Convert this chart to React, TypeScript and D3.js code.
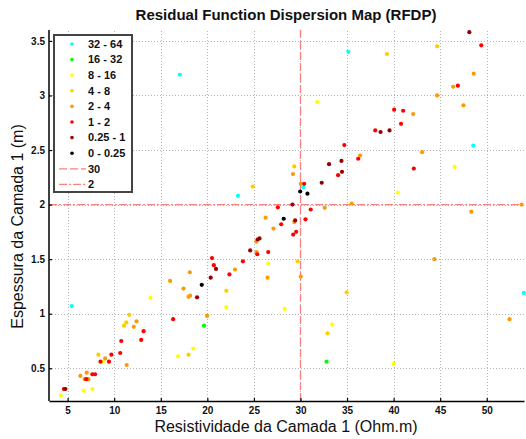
import { useEffect, useRef } from "react";
import * as d3 from "d3";

// legend labels, highest misfit class first
const categories = ["32 - 64", "16 - 32", "8 - 16", "4 - 8", "2 - 4", "1 - 2", "0.25 - 1", "0 - 0.25"];

// [resistivity (Ohm.m), thickness (m)] per misfit class
const cls32to64 = [[5.45, 1.07], [17.05, 3.19], [23.29, 2.08], [30.3, 2.16], [35.14, 3.4], [48.55, 2.54], [53.98, 1.19]];
const cls16to32 = [[19.65, 0.89], [32.8, 0.56]];
const cls8to16 = [
    [4.27, 0.25], [6.74, 0.295], [7.66, 0.31], [8.78, 0.56], [13.9, 1.145], [16.86, 0.61], [18.48, 0.68],
    [22.04, 1.06], [26.54, 1.46], [28.3, 1.045], [31.8, 2.94], [33.4, 0.9], [40.0, 0.54], [40.46, 2.11], [46.56, 2.345]
];
const cls4to8 = [
    [8.3, 0.625], [11.05, 0.89], [11.3, 0.92], [11.62, 0.99], [17.98, 0.625], [22.04, 1.21], [24.86, 2.165],
    [29.33, 2.35], [29.7, 1.48], [32.9, 0.82], [34.96, 1.195], [39.28, 3.38], [44.67, 3.45]
];
const cls2to4 = [
    [6.37, 0.43], [6.83, 0.4], [7.05, 0.46], [7.23, 0.4], [9.03, 0.59], [11.34, 0.53], [12.1, 0.88], [12.4, 0.93],
    [16.0, 1.3], [17.44, 1.23], [17.98, 1.155], [18.15, 1.165], [18.12, 1.38], [19.97, 0.98], [22.97, 1.405],
    [25.26, 1.66], [25.29, 1.565], [26.25, 1.88], [26.47, 1.33], [27.1, 1.78], [29.2, 2.28], [29.33, 1.84],
    [30.03, 2.19], [30.03, 1.34], [32.6, 1.97], [35.5, 2.01], [36.4, 2.45], [42.1, 2.83], [43.06, 2.48],
    [44.38, 1.5], [44.67, 3.0], [46.4, 3.08], [47.5, 2.91], [48.34, 1.935], [48.6, 3.2], [52.45, 0.95], [53.74, 2.0]
];
const cls1to2 = [
    [4.6, 0.31], [7.0, 0.4], [7.66, 0.445], [7.95, 0.445], [8.53, 0.56], [9.44, 0.56], [9.7, 0.625], [10.65, 0.64],
    [10.76, 0.75], [12.9, 0.76], [13.16, 0.84], [16.33, 0.95], [20.5, 1.51], [20.7, 1.445], [22.37, 1.36],
    [23.82, 1.48], [25.36, 1.545], [26.54, 1.565], [27.57, 1.975], [27.93, 1.82], [29.22, 1.725], [29.54, 1.75],
    [30.4, 2.19], [30.54, 1.865], [31.1, 1.955], [34.04, 2.27], [34.71, 2.545], [36.2, 2.42], [38.03, 2.68],
    [40.06, 2.87], [40.8, 2.74], [41.03, 2.86], [42.17, 2.33], [46.9, 3.09], [49.41, 3.46]
];
const cls025to1 = [
    [4.76, 0.31], [18.9, 1.15], [20.36, 1.33], [20.93, 1.41], [24.6, 1.58], [25.4, 1.68], [25.6, 1.69],
    [29.14, 2.0], [29.43, 1.855], [32.28, 2.2], [33.07, 2.37], [34.4, 2.4], [34.46, 2.3], [38.6, 2.665],
    [39.56, 2.68], [48.13, 3.58]
];
const cls0to025 = [[19.4, 1.265], [28.2, 1.87], [29.97, 2.12], [30.75, 2.1]];

const series = [cls32to64, cls16to32, cls8to16, cls4to8, cls2to4, cls1to2, cls025to1, cls0to025];

const xTicks = [5, 10, 15, 20, 25, 30, 35, 40, 45, 50];
const yTicks = [0.5, 1, 1.5, 2, 2.5, 3, 3.5];
const refX = 30;
const refY = 2;

const colors = ["#00ffff", "#00ff00", "#ffff00", "#ffcc00", "#ff9900", "#ff0000", "#990000", "#000000"];
const refColor = "#ff7f7f";
const font = "'Liberation Sans', Arial, sans-serif";

export default function App() {
    const ref = useRef<SVGSVGElement>(null);

    useEffect(() => {
        const width = 526;
        const height = 439;
        const m = { left: 49, right: 2, top: 30, bottom: 38 };

        const svg = d3.select(ref.current)
            .attr("width", width)
            .attr("height", height)
            .style("font-family", font);

        svg.selectAll("*").remove();

        const x = d3.scaleLinear().domain([3, 54]).range([m.left, width - m.right]);
        const y = d3.scaleLinear().domain([0.2, 3.6]).range([height - m.bottom, m.top]);

        // grid
        const grid = svg.append("g")
            .attr("stroke", "#b5b5b5")
            .attr("stroke-width", 1)
            .attr("stroke-dasharray", "1,2");
        grid.selectAll(".gx").data(xTicks).join("line")
            .attr("x1", d => Math.round(x(d)) + 0.5).attr("x2", d => Math.round(x(d)) + 0.5)
            .attr("y1", y.range()[0]).attr("y2", y.range()[1]);
        grid.selectAll(".gy").data(yTicks).join("line")
            .attr("y1", d => Math.round(y(d)) + 0.5).attr("y2", d => Math.round(y(d)) + 0.5)
            .attr("x1", x.range()[0]).attr("x2", x.range()[1]);

        // reference lines
        svg.append("line")
            .attr("x1", x(refX)).attr("x2", x(refX))
            .attr("y1", y.range()[0]).attr("y2", y.range()[1])
            .attr("stroke", refColor).attr("stroke-width", 1.3)
            .attr("stroke-dasharray", "8,3");
        svg.append("line")
            .attr("x1", x.range()[0]).attr("x2", x.range()[1])
            .attr("y1", y(refY)).attr("y2", y(refY))
            .attr("stroke", refColor).attr("stroke-width", 1.3)
            .attr("stroke-dasharray", "8,2,2,2");

        // points
        series.forEach((pts, i) => {
            svg.append("g").selectAll("circle").data(pts).join("circle")
                .attr("cx", d => x(d[0]))
                .attr("cy", d => y(d[1]))
                .attr("r", 2.1)
                .attr("fill", colors[i]);
        });

        // axes
        const xAxis = svg.append("g")
            .attr("transform", `translate(0,${y.range()[0]})`)
            .call(d3.axisBottom(x).tickValues(xTicks).tickSizeInner(-3).tickSizeOuter(0).tickPadding(6));
        const yAxis = svg.append("g")
            .attr("transform", `translate(${x.range()[0]},0)`)
            .call(d3.axisLeft(y).tickValues(yTicks).tickFormat(d3.format("")).tickSizeInner(-3).tickSizeOuter(0).tickPadding(4));

        [xAxis, yAxis].forEach(a => {
            a.select(".domain").attr("stroke", "#000").attr("stroke-width", 1.5);
            a.selectAll(".tick line").attr("stroke", "#000").attr("stroke-width", 1.2);
            a.selectAll(".tick text")
                .attr("fill", "#111")
                .style("font-size", "10px")
                .style("font-weight", "bold")
                .style("font-family", font);
        });
        yAxis.select(".domain").attr("d", `M0,${y.range()[0]}V${y.range()[1]}`);

        // titles
        svg.append("text")
            .attr("x", 286).attr("y", 20)
            .attr("text-anchor", "middle")
            .style("font-size", "15px").style("font-weight", "bold")
            .attr("fill", "#111")
            .text("Residual Function Dispersion Map (RFDP)");
        svg.append("text")
            .attr("x", 286).attr("y", 432)
            .attr("text-anchor", "middle")
            .style("font-size", "16px")
            .attr("fill", "#111")
            .text("Resistividade da Camada 1 (Ohm.m)");
        svg.append("text")
            .attr("transform", `translate(23,${(y.range()[0] + y.range()[1]) / 2 + 11}) rotate(-90)`)
            .attr("text-anchor", "middle")
            .style("font-size", "16px")
            .attr("fill", "#111")
            .text("Espessura da Camada 1 (m)");

        // legend
        const lg = svg.append("g").attr("transform", "translate(54,35)");
        lg.append("rect")
            .attr("width", 78).attr("height", 157)
            .attr("fill", "#fff")
            .attr("stroke", "#444").attr("stroke-width", 2);
        const rowY = (i: number) => 9 + i * 15.6;
        categories.forEach((c, i) => {
            lg.append("circle").attr("cx", 18).attr("cy", rowY(i)).attr("r", 1.8).attr("fill", colors[i]);
            lg.append("text")
                .attr("x", 34).attr("y", rowY(i)).attr("dy", "0.35em")
                .style("font-size", "11px").style("font-weight", "bold")
                .attr("fill", "#111")
                .text(c);
        });
        const refLabels = [String(refX), String(refY)];
        const refDash = ["8,3", "8,2,2,2"];
        refLabels.forEach((t, i) => {
            const ry = rowY(categories.length + i);
            lg.append("line")
                .attr("x1", 5).attr("x2", 32).attr("y1", ry).attr("y2", ry)
                .attr("stroke", refColor).attr("stroke-width", 1.3)
                .attr("stroke-dasharray", refDash[i]);
            lg.append("text")
                .attr("x", 34).attr("y", ry).attr("dy", "0.35em")
                .style("font-size", "11px").style("font-weight", "bold")
                .attr("fill", "#111")
                .text(t);
        });
    }, []);

    return <svg ref={ref} style={{ position: "absolute", left: 0, top: 0 }}></svg>;
}
